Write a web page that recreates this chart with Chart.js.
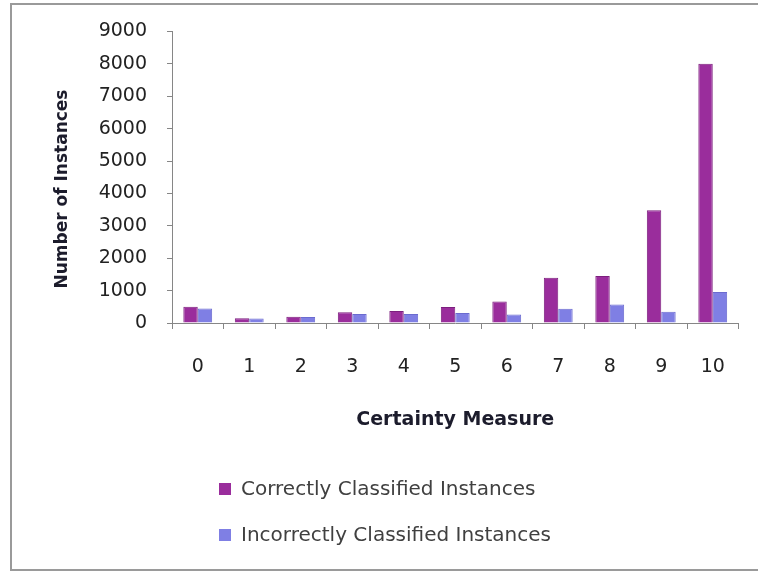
<!DOCTYPE html>
<html>
<head>
<meta charset="utf-8">
<script src="https://cdn.jsdelivr.net/npm/chart.js@4.4.1/dist/chart.umd.min.js"></script>
<style>
  html, body { margin: 0; padding: 0; background: #fff; }
  #wrap { width: 758px; height: 573px; }
</style>
</head>
<body>
<div id="wrap"><canvas id="certaintyChart" width="758" height="573"></canvas></div>
<script>
// data
var certainty = ["0", "1", "2", "3", "4", "5", "6", "7", "8", "9", "10"];
var correctly = [500, 150, 195, 330, 370, 490, 660, 1400, 1450, 3480, 8000];
var incorrectly = [450, 140, 185, 280, 280, 310, 260, 440, 570, 350, 960];
var yTicks = [0, 1000, 2000, 3000, 4000, 5000, 6000, 7000, 8000, 9000];

var FONT = "'DejaVu Sans', sans-serif";

// grey frame round the whole chart
var framePlugin = {
  id: 'frame',
  beforeDraw: function(chart) {
    var c = chart.ctx;
    c.save();
    c.fillStyle = '#fff';
    c.fillRect(0, 0, chart.width, chart.height);
    c.strokeStyle = '#9a9a9a';
    c.lineWidth = 2;
    c.strokeRect(11, 4, 760, 566);
    c.restore();
  }
};

// legend stacked in one column under the axis title
var stackedLegend = {
  id: 'stackedLegend',
  afterDraw: function(chart) {
    var c = chart.ctx;
    var rows = [489, 535];
    c.save();
    c.font = '20px ' + FONT;
    c.textBaseline = 'middle';
    c.textAlign = 'left';
    chart.data.datasets.forEach(function(ds, i) {
      c.fillStyle = ds.backgroundColor;
      c.fillRect(219, rows[i] - 6, 12, 12);
      c.fillStyle = '#404040';
      c.fillText(ds.label, 241, rows[i] + 1);
    });
    c.restore();
  }
};

var ctx = document.getElementById('certaintyChart').getContext('2d');
var chart = new Chart(ctx, {
  type: 'bar',
  data: {
    labels: certainty,
    datasets: [{
      label: 'Correctly Classified Instances',
      data: correctly,
      backgroundColor: '#9a2d9c',
      borderColor: '#7c1f7e',
      borderWidth: 1,
      categoryPercentage: 0.56,
      barPercentage: 1.0
    }, {
      label: 'Incorrectly Classified Instances',
      data: incorrectly,
      backgroundColor: '#7f7fe4',
      borderColor: '#6b6bcf',
      borderWidth: 1,
      categoryPercentage: 0.56,
      barPercentage: 1.0
    }]
  },
  options: {
    responsive: false,
    animation: false,
    devicePixelRatio: 1,
    layout: {
      padding: { left: 10, right: 19.5, top: 31, bottom: 141.6 }
    },
    plugins: {
      legend: { display: false },
      tooltip: { enabled: false }
    },
    scales: {
      x: {
        grid: {
          display: true,
          drawOnChartArea: false,
          drawTicks: true,
          tickLength: 6,
          color: '#868686',
          offset: true
        },
        border: { display: true, color: '#868686', width: 1 },
        ticks: {
          color: '#222',
          font: { family: FONT, size: 19 },
          padding: 27,
          maxRotation: 0
        },
        title: {
          display: true,
          text: 'Certainty Measure',
          color: '#1c1c2c',
          font: { family: FONT, size: 19, weight: 'bold' },
          padding: { top: 0, bottom: 0 }
        },
        afterFit: function(scale) { scale.height = 108.4; }
      },
      y: {
        min: 0,
        max: 9000,
        afterBuildTicks: function(scale) {
          scale.ticks = yTicks.map(function(v) { return { value: v }; });
        },
        grid: {
          display: true,
          drawOnChartArea: false,
          drawTicks: true,
          tickLength: 5,
          color: '#868686'
        },
        border: { display: true, color: '#868686', width: 1 },
        ticks: {
          color: '#222',
          font: { family: FONT, size: 19 },
          padding: 20,
          callback: function(value) { return String(value); }
        },
        title: {
          display: true,
          text: 'Number of Instances    ',
          color: '#1c1c2c',
          font: { family: FONT, size: 17, weight: 'bold' },
          padding: { top: 42, bottom: 0 }
        },
        afterFit: function(scale) { scale.width = 162; }
      }
    }
  },
  plugins: [framePlugin, stackedLegend]
});
</script>
</body>
</html>
